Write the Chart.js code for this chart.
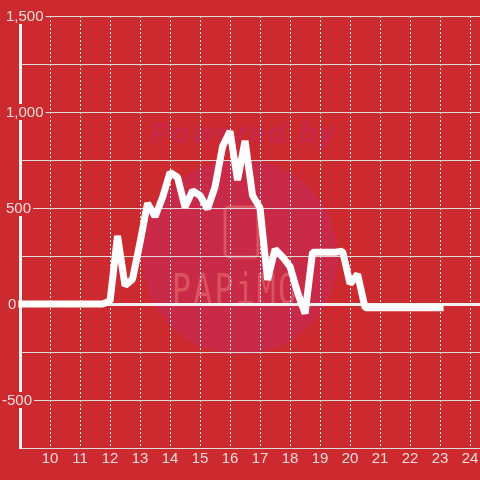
<!DOCTYPE html>
<html lang="en">
<head>
    <meta charset="UTF-8">
    <title>Line chart</title>
    <style>
        html, body { margin: 0; padding: 0; background: #cc2a2e; }
        #wrap { width: 480px; height: 480px; }
    </style>
</head>
<body>
    <div id="wrap"><canvas id="myChart" width="480" height="480"></canvas></div>

    <script src="https://cdn.jsdelivr.net/npm/chart.js"></script>
    <script>
        const xValues = [9, 9.25, 9.5, 9.75, 10, 10.25, 10.5, 10.75, 11, 11.25, 11.5, 11.75, 12, 12.25, 12.5, 12.75,
            13, 13.25, 13.5, 13.75, 14, 14.25, 14.5, 14.75, 15, 15.25, 15.5, 15.75, 16, 16.25, 16.5, 16.75,
            17, 17.25, 17.5, 17.75, 18, 18.25, 18.5, 18.75, 19, 19.25, 19.5, 19.75, 20, 20.25, 20.5, 20.75,
            21, 21.25, 21.5, 21.75, 22, 22.25, 22.5, 22.75, 23];
        const yValues = [0, 0, 0, 0, 0, 0, 0, 0, 0, 0, 0, 0, 15, 355, 95, 130,
            320, 525, 455, 555, 685, 660, 505, 590, 565, 495, 610, 820, 900, 645, 850, 565,
            500, 125, 285, 245, 195, 60, -50, 270, 270, 270, 270, 275, 105, 155, -20, -20,
            -20, -20, -20, -20, -20, -20, -20, -20, -20];
        const xTickValues = [10, 11, 12, 13, 14, 15, 16, 17, 18, 19, 20, 21, 22, 23, 24];
        const yMajorLabels = [1500, 1000, 500, 0, -500];

        const textColor = '#f6dcdc';
        const gridColor = '#dcdcdc';
        const bgColor = '#cc2a2e';

        // faint watermark behind the plot
        const watermark = {
            id: 'watermark',
            beforeDraw(chart) {
                const c = chart.ctx;
                c.save();
                c.fillStyle = '#c92a48';
                c.beginPath();
                c.arc(240, 257, 98, 0, Math.PI * 2);
                c.fill();

                c.fillStyle = '#c7284c';
                c.font = 'italic bold 29px "Liberation Sans", sans-serif';
                c.letterSpacing = '2.5px';
                c.textBaseline = 'alphabetic';
                c.fillText('Powered by', 150, 143);

                c.strokeStyle = '#da5460';
                c.lineWidth = 3;
                c.beginPath();
                c.roundRect(225, 207, 33, 50, 4);
                c.stroke();

                c.fillStyle = '#da5460';
                c.font = '42px "DejaVu Sans Mono", monospace';
                c.letterSpacing = '3px';
                c.translate(172, 304);
                c.scale(0.75, 1);
                c.fillText('PAPiMO', 0, 0);
                c.restore();
            }
        };

        // y labels sit on a patch of background, so they cut the axis and grid lines
        const yLabels = {
            id: 'yLabels',
            afterDatasetsDraw(chart) {
                const c = chart.ctx;
                const y = chart.scales.y;
                c.save();
                c.font = '15px "Liberation Sans", sans-serif';
                c.textBaseline = 'middle';
                yMajorLabels.forEach(v => {
                    const py = y.getPixelForValue(v);
                    const text = v.toLocaleString('en-US');
                    const left = v < 0 ? 2 : (v === 0 ? 8 : 6);
                    const w = c.measureText(text).width;
                    c.fillStyle = bgColor;
                    c.fillRect(0, py - 8, left + w + 2, 16);
                    c.fillStyle = textColor;
                    c.fillText(text, left, py + 1);
                });
                c.restore();
            }
        };

        new Chart(document.getElementById('myChart').getContext('2d'), {
            type: 'line',
            data: {
                datasets: [{
                    data: xValues.map((x, i) => ({ x: x, y: yValues[i] })),
                    borderColor: '#ffffff',
                    borderWidth: 7,
                    borderCapStyle: 'square',
                    borderJoinStyle: 'bevel',
                    pointRadius: 0,
                    tension: 0,
                    fill: false,
                    clip: false
                }]
            },
            options: {
                responsive: false,
                animation: false,
                layout: { padding: { left: 20, top: 16, right: 0, bottom: 0 } },
                plugins: { legend: { display: false }, tooltip: { enabled: false } },
                scales: {
                    x: {
                        type: 'linear',
                        min: 9,
                        max: 24.33,
                        afterFit(scale) {
                            scale.height = 32;
                            scale.paddingLeft = 0;
                            scale.paddingRight = 0;
                        },
                        afterBuildTicks(scale) {
                            scale.ticks = xTickValues.map(v => ({ value: v }));
                        },
                        ticks: {
                            stepSize: 1,
                            color: textColor,
                            font: { family: 'Liberation Sans', size: 15 },
                            maxRotation: 0,
                            autoSkip: false,
                            padding: 2,
                            callback: v => String(v)
                        },
                        grid: {
                            color: '#f0f0f0',
                            lineWidth: 1,
                            drawTicks: false
                        },
                        border: { color: gridColor, width: 1, dash: [2, 2] }
                    },
                    y: {
                        min: -750,
                        max: 1500,
                        afterFit(scale) { scale.width = 0; },
                        ticks: { stepSize: 250, display: false },
                        grid: {
                            color: ctx => ctx.tick.value === 0 ? '#f2f2f2' : gridColor,
                            lineWidth: ctx => ctx.tick.value === 0 ? 3 : 1,
                            drawTicks: false
                        },
                        border: { color: '#f2f2f2', width: 3 }
                    }
                }
            },
            plugins: [watermark, yLabels]
        });
    </script>
</body>
</html>
